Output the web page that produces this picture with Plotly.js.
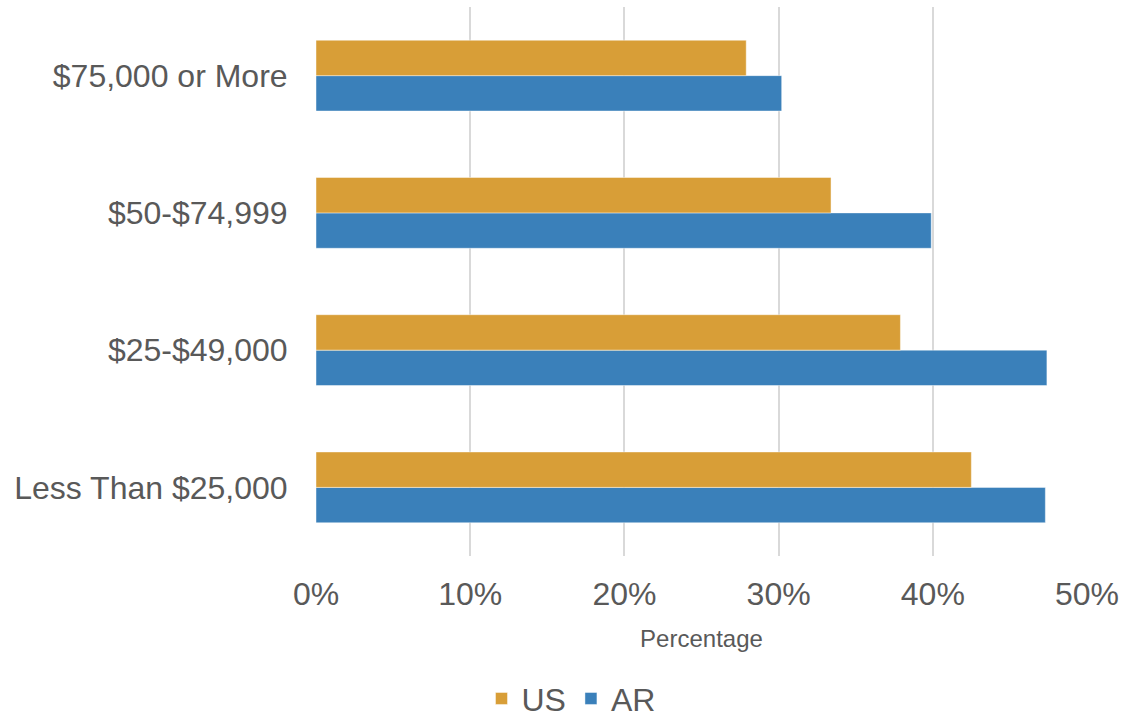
<!DOCTYPE html>
<html>
<head>
<meta charset="utf-8">
<script src="https://cdn.plot.ly/plotly-3.0.1.min.js"></script>
<style>html,body{margin:0;padding:0;background:#fff;}#chart{width:1124px;height:724px;}</style>
</head>
<body>
<div id="chart"></div>
<script>
const categories = ["Less Than $25,000", "$25-$49,000", "$50-$74,999", "$75,000 or More"];
const usValues = [0.425, 0.379, 0.334, 0.279];
const arValues = [0.473, 0.474, 0.399, 0.302];
const xTickValues = [0, 0.1, 0.2, 0.3, 0.4, 0.5];
const xTickLabels = ["0%", "10%", "20%", "30%", "40%", "50%"];

const textColor = "#595959";
const font = "Liberation Sans, Arial, sans-serif";

const traces = [
  {
    type: "bar", orientation: "h", name: "AR",
    y: categories, x: arValues,
    marker: {color: "#3A80BA", line: {color: "rgba(255,255,255,0.45)", width: 1}},
    hoverinfo: "x+y+name"
  },
  {
    type: "bar", orientation: "h", name: "US",
    y: categories, x: usValues,
    marker: {color: "#D89E37", line: {color: "rgba(255,255,255,0.45)", width: 1}},
    hoverinfo: "x+y+name"
  }
];

const layout = {
  width: 1124, height: 724,
  margin: {l: 316, r: 37, t: 7, b: 168, autoexpand: false},
  paper_bgcolor: "#fff", plot_bgcolor: "#fff",
  barmode: "group", bargap: 0.484, bargroupgap: 0,
  font: {family: font, color: textColor, size: 32},
  xaxis: {
    range: [0, 0.5], automargin: false,
    tickvals: xTickValues, ticktext: xTickLabels,
    showgrid: true, gridcolor: "#D9D9D9", gridwidth: 2,
    zeroline: false, showline: false,
    ticks: "outside", ticklen: 10, tickcolor: "rgba(0,0,0,0)",
    tickfont: {size: 32, color: textColor, family: font},
    title: {text: "Percentage", font: {size: 24, color: textColor, family: font}, standoff: 18},
    fixedrange: true
  },
  yaxis: {
    type: "category", automargin: false,
    categoryorder: "array", categoryarray: categories,
    showgrid: false, zeroline: false, showline: false,
    ticks: "outside", ticklen: 21, tickcolor: "rgba(0,0,0,0)",
    tickfont: {size: 32, color: textColor, family: font},
    fixedrange: true
  },
  showlegend: true,
  legend: {
    orientation: "h", traceorder: "reversed",
    x: 0.508, xanchor: "center", xref: "container",
    y: 0.035, yanchor: "middle", yref: "container",
    font: {size: 32, color: textColor, family: font},
    itemwidth: 30
  }
};

Plotly.newPlot("chart", traces, layout, {displayModeBar: false, staticPlot: true});
</script>
</body>
</html>
